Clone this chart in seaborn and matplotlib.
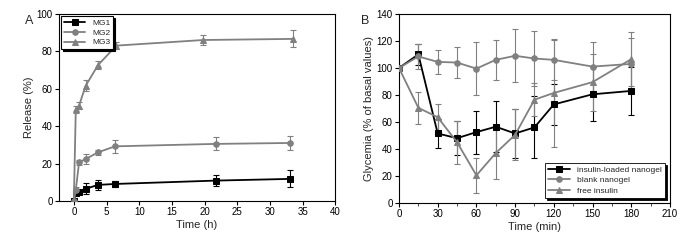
import numpy as np
import pandas as pd
import matplotlib
matplotlib.use("Agg")
import matplotlib.pyplot as plt
import seaborn as sns

sns.set_style("ticks")
plt.rcParams['font.family'] = ['Liberation Sans', 'DejaVu Sans']

# panel A data: release (%) vs time (h)
time_mg1 = [0, 0.3, 0.8, 1.8, 3.7, 6.3, 21.7, 33.0]
rel_mg1 = [0, 4.1, 5.0, 6.5, 8.6, 9.1, 10.9, 11.8]
err_mg1 = [0, 1.0, 1.0, 3.0, 2.5, 1.5, 3.0, 4.5]

time_mg2 = [0, 0.3, 0.8, 1.8, 3.7, 6.3, 21.7, 33.0]
rel_mg2 = [0, 5.9, 20.6, 22.4, 26.0, 29.2, 30.5, 31.0]
err_mg2 = [0, 1.5, 1.5, 2.5, 1.5, 3.5, 3.5, 3.5]

time_mg3 = [0, 0.3, 0.8, 1.8, 3.7, 6.5, 19.8, 33.6]
rel_mg3 = [0, 48.9, 51.0, 61.5, 72.6, 83.0, 86.0, 86.6]
err_mg3 = [0, 2.0, 2.0, 3.0, 2.0, 2.0, 2.5, 4.5]

# panel B data: glycemia (% of basal) vs time (min)
time_b = [0, 15, 30, 45, 60, 75, 90, 105, 120, 150, 180]
gly_loaded = [100, 110, 51.5, 48, 52.5, 56.5, 51.5, 56, 73, 80.5, 83]
err_loaded = [0, 8, 10.5, 12.5, 16, 19, 18, 23, 15, 20, 18]
gly_blank = [100, 108.5, 104.5, 104, 99.5, 106, 109, 107, 106, 101, 103]
err_blank = [0, 9, 9, 11.5, 19.5, 15, 19.5, 20, 15, 18, 19]
gly_free = [100, 70.5, 63.5, 45, 20.5, 37, 50.5, 76.5, 81.5, 89.5, 106.5]
err_free = [0, 12, 10, 16, 13, 19, 19, 12, 40, 21, 20]

grey = '#808080'

fig = plt.figure(figsize=(7, 2.4), dpi=100)
axA = fig.add_axes([0.084, 0.1625, 0.395, 0.78])
axB = fig.add_axes([0.570, 0.154, 0.387, 0.788])

def draw(ax, x, y, e, color, marker, label, ms):
    ax.errorbar(x, y, yerr=e, fmt='none', ecolor=color, elinewidth=0.8,
                capsize=2, capthick=0.8, zorder=2)
    sns.lineplot(x=x, y=y, ax=ax, color=color, marker=marker, markersize=ms,
                 markeredgecolor=color, linewidth=1.3, label=label, zorder=3)

draw(axA, time_mg1, rel_mg1, err_mg1, 'black', 's', 'MG1', 4)
draw(axA, time_mg2, rel_mg2, err_mg2, grey, 'o', 'MG2', 4)
draw(axA, time_mg3, rel_mg3, err_mg3, grey, '^', 'MG3', 4.5)

axA.set_xlim(-2.3, 40)
axA.set_ylim(0, 100)
axA.set_xticks(np.arange(0, 41, 5))
axA.set_yticks(np.arange(0, 101, 20))
axA.set_xlabel('Time (h)', fontsize=8, labelpad=2)
axA.set_ylabel('Release (%)', fontsize=8, labelpad=2)
legA = axA.legend(loc='upper left', fontsize=6, frameon=True, fancybox=False,
                  shadow={'color': 'black', 'alpha': 1, 'ox': 1.5, 'oy': -1.5},
                  edgecolor='black', handlelength=2.6, borderpad=0.3,
                  labelspacing=0.25, borderaxespad=0.3)
legA.get_frame().set_linewidth(0.8)

draw(axB, time_b, gly_loaded, err_loaded, 'black', 's', 'insulin-loaded nanogel', 4)
draw(axB, time_b, gly_blank, err_blank, grey, 'o', 'blank nanogel', 4)
draw(axB, time_b, gly_free, err_free, grey, '^', 'free insulin', 4.5)

axB.set_xlim(0, 210)
axB.set_ylim(0, 140)
axB.set_xticks(np.arange(0, 211, 30))
axB.set_xticks(np.arange(15, 211, 30), minor=True)
axB.set_yticks(np.arange(0, 141, 20))
axB.set_xlabel('Time (min)', fontsize=8, labelpad=2)
axB.set_ylabel('Glycemia (% of basal values)', fontsize=8, labelpad=2)
legB = axB.legend(loc='lower right', fontsize=6, frameon=True, fancybox=False,
                  shadow={'color': 'black', 'alpha': 1, 'ox': 1.2, 'oy': -1.2},
                  edgecolor='black', handlelength=2.6, borderpad=0.4,
                  labelspacing=0.3, borderaxespad=0.6)
legB.get_frame().set_linewidth(0.6)

for ax in (axA, axB):
    for sp in ax.spines.values():
        sp.set_visible(True)
        sp.set_color('black')
        sp.set_linewidth(0.8)
    ax.tick_params(axis='both', which='major', labelsize=7, length=3,
                   width=0.8, pad=1.5, colors='black')
    ax.tick_params(axis='both', which='minor', length=2, width=0.6)

fig.text(0.035, 0.9, 'A', fontsize=9)
fig.text(0.515, 0.9, 'B', fontsize=9)

fig.savefig('out.png', dpi=100)
